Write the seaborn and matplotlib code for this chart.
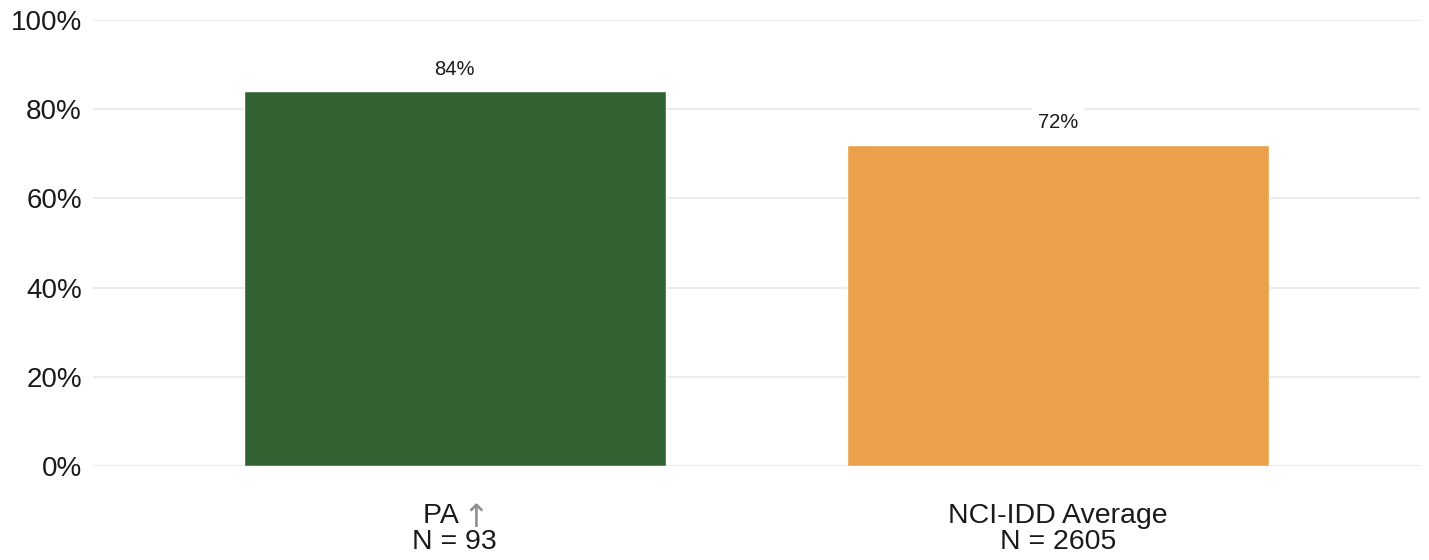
import pandas as pd
import matplotlib.pyplot as plt
import seaborn as sns
from matplotlib.ticker import PercentFormatter

# Data
groups = ['PA', 'NCI-IDD Average']
counts = [93, 2605]
shares = [84, 72]
bar_colors = ['#336333', '#EBA04C']

df = pd.DataFrame({'group': groups, 'n': counts, 'share': [s / 100 for s in shares]})

sns.set_style('white')
plt.rcParams['font.family'] = ['Liberation Sans', 'DejaVu Sans']

fig = plt.figure(figsize=(14.29, 5.6), dpi=100)
ax = fig.add_axes([0.065, 0.168, 0.9285, 0.796])

sns.barplot(data=df, x='group', y='share', hue='group', palette=bar_colors,
            width=0.7, saturation=1, legend=False, ax=ax, zorder=2)

ax.set_ylim(0, 1)
ax.set_xlim(-0.6, 1.6)
ax.yaxis.set_major_formatter(PercentFormatter(1.0, decimals=0))
ax.set_yticks([0, 0.2, 0.4, 0.6, 0.8, 1.0])
ax.grid(axis='y', color='#ebebeb', linewidth=1.5, zorder=0)
ax.grid(axis='x', visible=False)
for s in ax.spines.values():
    s.set_visible(False)

# tick labels; room left for the grey arrow after "PA"
tick_text = []
for g, n in zip(groups, counts):
    head = g + '\u2002\u2002' if g == 'PA' else g
    tick_text.append(f'{head}\nN = {n}')
ax.set_xticks(range(len(groups)))
ax.set_xticklabels(tick_text, fontsize=20.5, linespacing=0.97, color='#1a1a1a')
ax.tick_params(axis='x', length=0, pad=27)
ax.tick_params(axis='y', length=0, labelsize=20, pad=8, labelcolor='#1a1a1a')
ax.set_xlabel('')
ax.set_ylabel('')

ax.annotate('\u2191', xy=(0, 0), xycoords=('data', 'axes fraction'),
            xytext=(15, -38), textcoords='offset points',
            ha='center', va='center', fontsize=23, color='#8f8f8f',
            family='DejaVu Sans')

# value labels
for i, s in enumerate(shares):
    ax.annotate(f'{s}%', xy=(i, s / 100), xytext=(0, 16), textcoords='offset points',
                ha='center', va='center', fontsize=14.5, color='#1a1a1a',
                bbox=dict(boxstyle='square,pad=0.3', fc='white', ec='none'), zorder=3)

fig.savefig('out.png', dpi=100)
